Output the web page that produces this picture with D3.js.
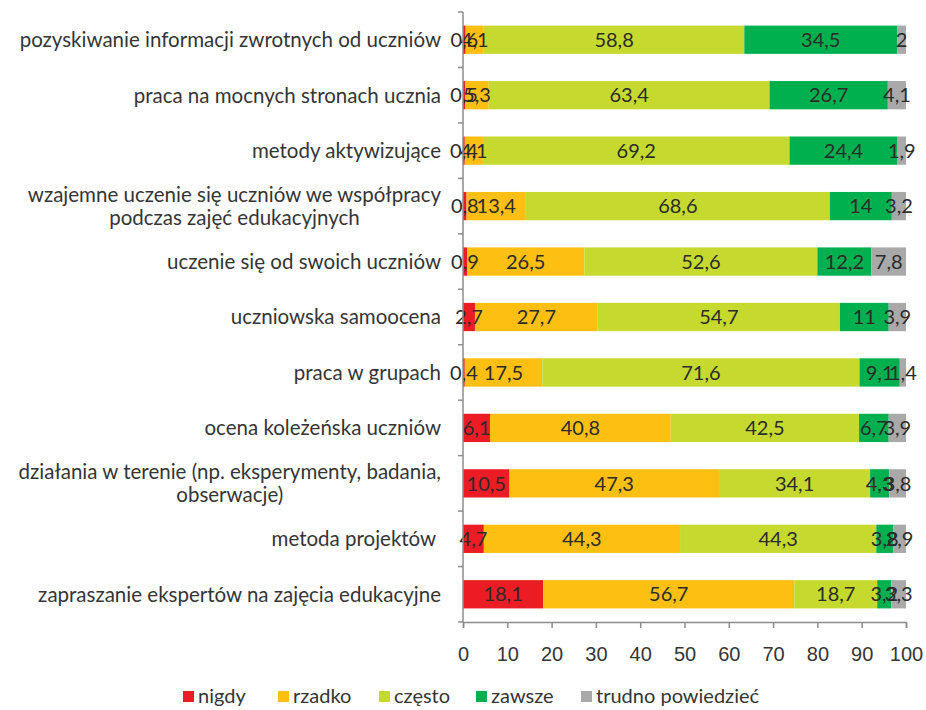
<!DOCTYPE html>
<html>
<head>
<meta charset="utf-8">
<script src="https://cdn.jsdelivr.net/npm/d3@7"></script>
<style>
  body { margin: 0; background: #fff; }
  svg { font-family: Lato, "Open Sans", sans-serif; }
  .cat { fill: #353535; font-size: 20.5px; white-space: pre; }
  .val { fill: #2b2b2b; font-size: 20px; }
  .tick text { fill: #353535; font-size: 20px; }
  .leg { fill: #353535; font-size: 20px; }
</style>
</head>
<body>
<div id="chart"></div>
<script>
// categories (top to bottom)
const categories = [
  "pozyskiwanie informacji zwrotnych od uczniów",
  "praca na mocnych stronach ucznia",
  "metody aktywizujące",
  "wzajemne uczenie się uczniów we współpracy\npodczas zajęć edukacyjnych",
  "uczenie się od swoich uczniów",
  "uczniowska samoocena",
  "praca w grupach",
  "ocena koleżeńska uczniów",
  "działania w terenie (np. eksperymenty, badania,\nobserwacje)",
  "metoda projektów ",
  "zapraszanie ekspertów na zajęcia edukacyjne"
];

const seriesNames = ["nigdy", "rzadko", "często", "zawsze", "trudno powiedzieć"];
const colors = ["#ec1c24", "#fdbf12", "#c5d92e", "#00b04f", "#a9a9a9"];

const nigdy   = [0.6, 0.5, 0.4, 0.8, 0.9, 2.7, 0.4, 6.1, 10.5, 4.7, 18.1];
const rzadko  = [4.1, 5.3, 4.1, 13.4, 26.5, 27.7, 17.5, 40.8, 47.3, 44.3, 56.7];
const czesto  = [58.8, 63.4, 69.2, 68.6, 52.6, 54.7, 71.6, 42.5, 34.1, 44.3, 18.7];
const zawsze  = [34.5, 26.7, 24.4, 14, 12.2, 11, 9.1, 6.7, 4.3, 3.8, 3.2];
const trudno  = [2, 4.1, 1.9, 3.2, 7.8, 3.9, 1.4, 3.9, 3.8, 2.9, 3.3];

const xTicks = [0, 10, 20, 30, 40, 50, 60, 70, 80, 90, 100];

const W = 926, H = 710;
const plotL = 463, plotR = 906, plotT = 12, plotB = 622;

const svg = d3.select("#chart").append("svg")
  .attr("width", W).attr("height", H);

const x = d3.scaleLinear().domain([0, 100]).range([plotL, plotR]);
const y = d3.scaleBand().domain(d3.range(categories.length)).range([plotT, plotB]).paddingInner(0.49).paddingOuter(0.245);
const yb = d3.scaleBand().domain(d3.range(categories.length)).range([plotT, plotB]);

const rows = categories.map((c, i) => ({ i, vals: [nigdy[i], rzadko[i], czesto[i], zawsze[i], trudno[i]] }));
const stack = d3.stack().keys(d3.range(5)).value((d, k) => d.vals[k]);
const layers = stack(rows);

const fmt = v => String(v).replace(".", ",");

// bars
layers.forEach((layer, k) => {
  svg.append("g").selectAll("rect").data(layer).join("rect")
    .attr("x", d => x(d[0]))
    .attr("width", d => x(d[1]) - x(d[0]))
    .attr("y", d => y(d.data.i))
    .attr("height", y.bandwidth())
    .attr("fill", colors[k]);
});

// value labels (centred in each segment, overlapping like the original)
layers.forEach((layer, k) => {
  svg.append("g").selectAll("text").data(layer).join("text")
    .attr("class", "val")
    .attr("x", d => (x(d[0]) + x(d[1])) / 2)
    .attr("y", d => y(d.data.i) + y.bandwidth() / 2)
    .attr("dy", "0.36em")
    .attr("text-anchor", "middle")
    .text(d => fmt(d.data.vals[k]));
});

// y axis line + ticks at band boundaries
svg.append("line").attr("x1", plotL).attr("x2", plotL).attr("y1", plotT).attr("y2", plotB)
  .attr("stroke", "#8c8c8c").attr("stroke-width", 1.5);
svg.append("g").selectAll("line").data(d3.range(categories.length + 1)).join("line")
  .attr("x1", plotL - 5).attr("x2", plotL)
  .attr("y1", d => plotT + d * yb.step()).attr("y2", d => plotT + d * yb.step())
  .attr("stroke", "#8c8c8c").attr("stroke-width", 1.5);

// category labels (multi-line, centred within right-aligned block)
const catG = svg.append("g");
categories.forEach((c, i) => {
  const lines = c.split("\n");
  const cy = yb(i) + yb.bandwidth() / 2;
  const lh = 23;
  const g = catG.append("g");
  const texts = lines.map((ln, j) => g.append("text")
    .attr("class", "cat")
    .attr("y", cy + (j - (lines.length - 1) / 2) * lh)
    .attr("dy", "0.36em")
    .text(ln));
  const widths = texts.map(t => t.node().getComputedTextLength());
  const maxW = d3.max(widths);
  const rx = 441;
  texts.forEach(t => t.attr("x", rx - maxW / 2).attr("text-anchor", "middle"));
});

// x axis
const xAxis = svg.append("g")
  .attr("transform", `translate(0,${plotB})`)
  .call(d3.axisBottom(x).tickValues(xTicks).tickSize(6).tickPadding(19).tickFormat(d => d));
xAxis.select(".domain").attr("stroke", "#8c8c8c").attr("stroke-width", 1.5);
xAxis.selectAll(".tick line").attr("stroke", "#8c8c8c").attr("stroke-width", 1.5);

// legend
const legendX = [183, 278, 379, 476, 581];
const legend = svg.append("g");
seriesNames.forEach((n, k) => {
  legend.append("rect").attr("x", legendX[k]).attr("y", 691).attr("width", 11).attr("height", 11).attr("fill", colors[k]);
  legend.append("text").attr("class", "leg").attr("x", legendX[k] + 15).attr("y", 696).attr("dy", "0.36em").text(n);
});
</script>
</body>
</html>
